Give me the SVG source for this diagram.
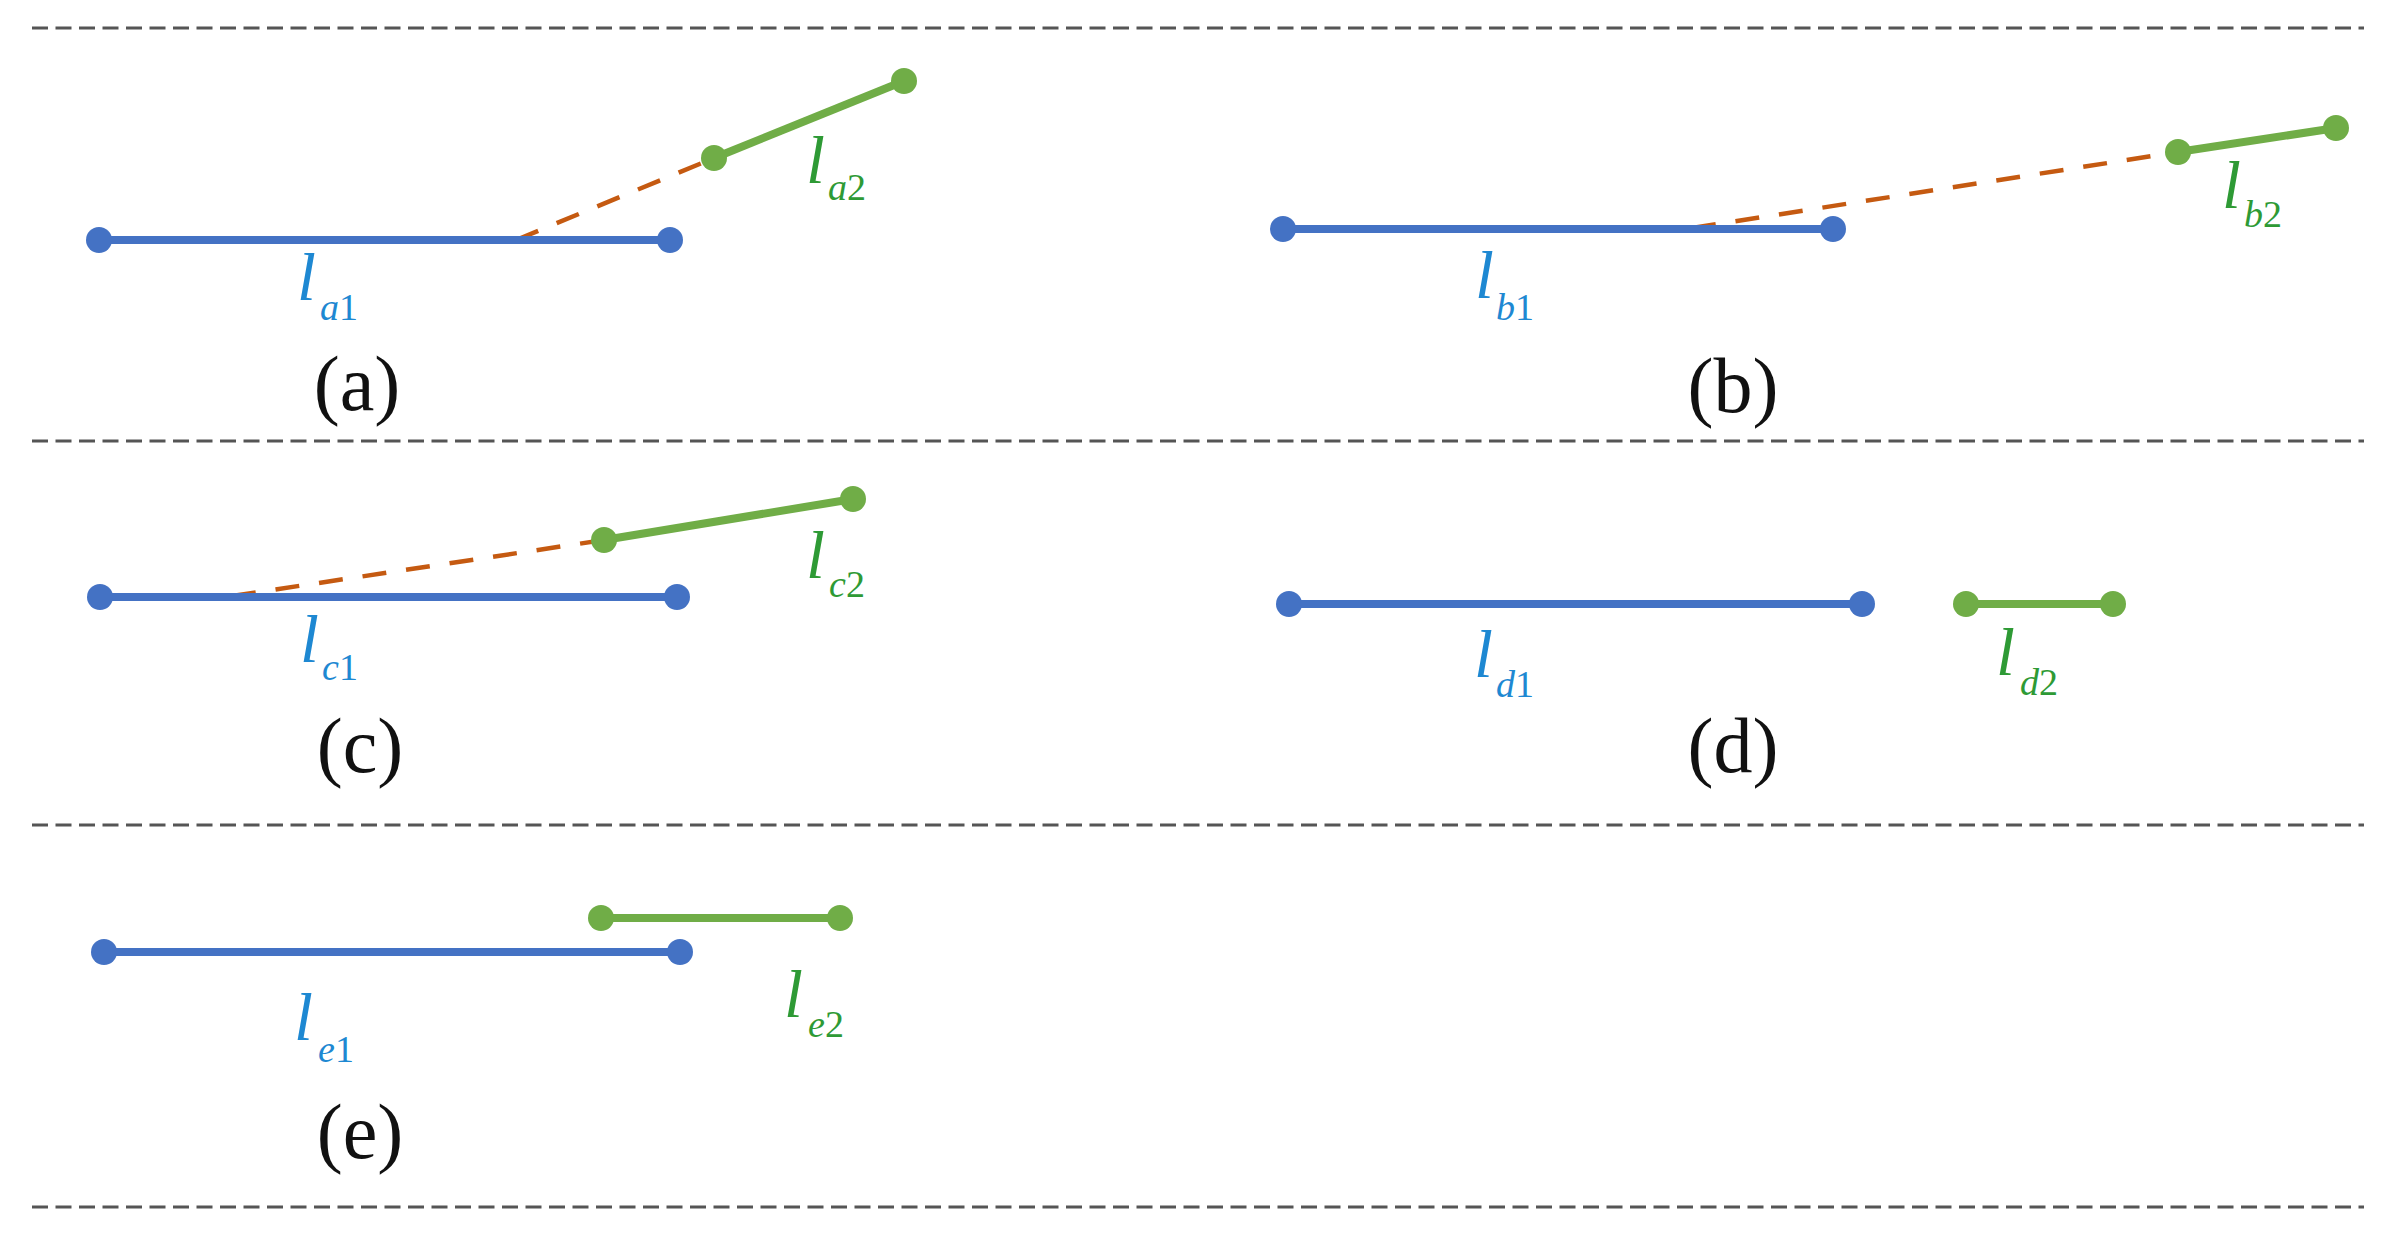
<svg xmlns="http://www.w3.org/2000/svg" width="2395" height="1233" viewBox="0 0 2395 1233">
<style>
.div{stroke:#555;stroke-width:3;stroke-dasharray:16 7.5;fill:none}
.b{stroke:#4472C4;stroke-width:8;fill:none}
.g{stroke:#70AD47;stroke-width:8;fill:none}
.o{stroke:#C55A11;stroke-width:4.5;stroke-dasharray:24 20;fill:none}
.bd{fill:#4472C4}
.gd{fill:#70AD47}
.cap{font-family:"Liberation Serif",serif;font-size:78px;fill:#111;text-anchor:middle}
.lb{font-family:"Liberation Serif",serif;font-style:italic;fill:#1E88D2}
.lg{font-family:"Liberation Serif",serif;font-style:italic;fill:#2E9A35}
.m{font-size:68px}
.s{font-size:38px}
.up{font-style:normal}
</style>
<rect width="2395" height="1233" fill="#fff"/>
<g id="dividers">
<line class="div" x1="32" y1="28" x2="2364" y2="28"/>
<line class="div" x1="32" y1="441" x2="2364" y2="441"/>
<line class="div" x1="32" y1="825" x2="2364" y2="825"/>
<line class="div" x1="32" y1="1207" x2="2364" y2="1207"/>
</g>
<g id="connectors">
<line class="o" x1="516" y1="240" x2="714" y2="158"/>
<line class="o" x1="1692" y1="228" x2="2178" y2="152"/>
<line class="o" x1="232" y1="596" x2="604" y2="540"/>
</g>
<g id="panel-a">
<line class="b" x1="99" y1="240" x2="670" y2="240"/>
<circle class="bd" cx="99" cy="240" r="13"/><circle class="bd" cx="670" cy="240" r="13"/>
<line class="g" x1="714" y1="158" x2="904" y2="81"/>
<circle class="gd" cx="714" cy="158" r="13"/><circle class="gd" cx="904" cy="81" r="13"/>
<text class="lb m" x="297" y="300">l</text><text class="lb s" x="320" y="320">a<tspan class="up">1</tspan></text>
<text class="lg m" x="806" y="183">l</text><text class="lg s" x="828" y="200">a<tspan class="up">2</tspan></text>
<text class="cap" x="357" y="410">(a)</text>
</g>
<g id="panel-b">
<line class="b" x1="1283" y1="229" x2="1833" y2="229"/>
<circle class="bd" cx="1283" cy="229" r="13"/><circle class="bd" cx="1833" cy="229" r="13"/>
<line class="g" x1="2178" y1="152" x2="2336" y2="128"/>
<circle class="gd" cx="2178" cy="152" r="13"/><circle class="gd" cx="2336" cy="128" r="13"/>
<text class="lb m" x="1475" y="298">l</text><text class="lb s" x="1496" y="320">b<tspan class="up">1</tspan></text>
<text class="lg m" x="2222" y="208">l</text><text class="lg s" x="2244" y="227">b<tspan class="up">2</tspan></text>
<text class="cap" x="1733" y="412">(b)</text>
</g>
<g id="panel-c">
<line class="b" x1="100" y1="597" x2="677" y2="597"/>
<circle class="bd" cx="100" cy="597" r="13"/><circle class="bd" cx="677" cy="597" r="13"/>
<line class="g" x1="604" y1="540" x2="853" y2="499"/>
<circle class="gd" cx="604" cy="540" r="13"/><circle class="gd" cx="853" cy="499" r="13"/>
<text class="lb m" x="300" y="662">l</text><text class="lb s" x="322" y="680">c<tspan class="up">1</tspan></text>
<text class="lg m" x="806" y="578">l</text><text class="lg s" x="829" y="597">c<tspan class="up">2</tspan></text>
<text class="cap" x="360" y="772">(c)</text>
</g>
<g id="panel-d">
<line class="b" x1="1289" y1="604" x2="1862" y2="604"/>
<circle class="bd" cx="1289" cy="604" r="13"/><circle class="bd" cx="1862" cy="604" r="13"/>
<line class="g" x1="1966" y1="604" x2="2113" y2="604"/>
<circle class="gd" cx="1966" cy="604" r="13"/><circle class="gd" cx="2113" cy="604" r="13"/>
<text class="lb m" x="1474" y="677">l</text><text class="lb s" x="1496" y="697">d<tspan class="up">1</tspan></text>
<text class="lg m" x="1996" y="675">l</text><text class="lg s" x="2020" y="695">d<tspan class="up">2</tspan></text>
<text class="cap" x="1733" y="772">(d)</text>
</g>
<g id="panel-e">
<line class="b" x1="104" y1="952" x2="680" y2="952"/>
<circle class="bd" cx="104" cy="952" r="13"/><circle class="bd" cx="680" cy="952" r="13"/>
<line class="g" x1="601" y1="918" x2="840" y2="918"/>
<circle class="gd" cx="601" cy="918" r="13"/><circle class="gd" cx="840" cy="918" r="13"/>
<text class="lb m" x="294" y="1040">l</text><text class="lb s" x="318" y="1062">e<tspan class="up">1</tspan></text>
<text class="lg m" x="784" y="1017">l</text><text class="lg s" x="808" y="1037">e<tspan class="up">2</tspan></text>
<text class="cap" x="360" y="1158">(e)</text>
</g>
</svg>
